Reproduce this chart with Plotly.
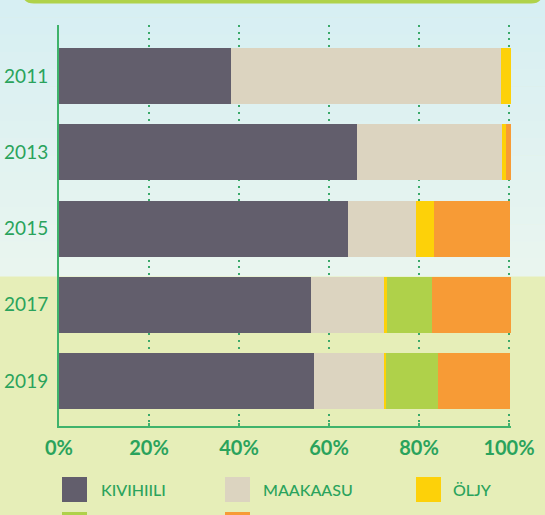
import plotly.graph_objects as go

# ---- data ----
years = ["2011", "2013", "2015", "2017", "2019"]
series_names = ["KIVIHIILI", "MAAKAASU", "ÖLJY", "BIOPOLTTOAINEET", "MUUT"]
kivihiili = [38.2, 66.2, 64.2, 56.0, 56.7]
maakaasu = [60.0, 32.2, 15.1, 16.2, 15.5]
oljy = [2.2, 0.9, 4.0, 0.6, 0.5]
bio = [0.0, 0.0, 0.0, 10.1, 11.5]
muut = [0.0, 1.1, 16.9, 17.5, 16.0]
x_tickvals = [0, 20, 40, 60, 80, 100]
x_ticktext = ["0%", "20%", "40%", "60%", "80%", "100%"]

series_values = [kivihiili, maakaasu, oljy, bio, muut]
colors = ["#625e6c", "#dcd4c0", "#fdd109", "#afd14a", "#f79b36"]

GREEN_TXT = "#2aa35c"
AXIS_GREEN = "#3fb36b"
GRID_GREEN = "#3aa96a"

W, H = 545, 515
ML, MR, MT, MB = 59, 34, 25, 89
PW = W - ML - MR
PH = H - MT - MB


def px2x(px):
    return (px - ML) / PW


def px2y(py):
    return (H - MB - py) / PH


fig = go.Figure()
for name, vals, col in zip(series_names, series_values, colors):
    fig.add_trace(go.Bar(
        y=years, x=vals, orientation="h", name=name,
        marker=dict(color=col, line=dict(width=0)),
        width=0.734, showlegend=False, hoverinfo="x+name",
    ))

shapes = []
# background gradient (top bluish part)
c0 = (0xd7, 0xef, 0xf3)
c1 = (0xe9, 0xf5, 0xef)
nb = 16
top_end = 276
for i in range(nb):
    t = i / (nb - 1)
    c = tuple(round(a + (b - a) * t) for a, b in zip(c0, c1))
    y0 = top_end * i / nb
    y1 = top_end * (i + 1) / nb
    shapes.append(dict(type="rect", xref="paper", yref="paper",
                       x0=px2x(-2), x1=px2x(W + 2), y0=px2y(y1 + 0.5), y1=px2y(y0 - (2 if i == 0 else 0)),
                       fillcolor="rgb(%d,%d,%d)" % c, line=dict(width=0), layer="below"))

# top green rounded box (cut off)
L, R, B, r = 22, 543, 3.5, 12
path = (f"M {px2x(L)},{px2y(-30)} L {px2x(L)},{px2y(B - r)} "
        f"Q {px2x(L)},{px2y(B)} {px2x(L + r)},{px2y(B)} "
        f"L {px2x(R - r)},{px2y(B)} Q {px2x(R)},{px2y(B)} {px2x(R)},{px2y(B - r)} "
        f"L {px2x(R)},{px2y(-30)} Z")
shapes.append(dict(type="path", xref="paper", yref="paper", path=path,
                   fillcolor="#b0d24a", line=dict(width=0), layer="above"))

# legend squares
leg_pos = [(62, 477), (225, 477), (416, 477), (62, 512), (225, 512)]
annotations = []
for i, ((sx, sy), col) in enumerate(zip(leg_pos, colors)):
    shapes.append(dict(type="rect", xref="paper", yref="paper",
                       x0=px2x(sx), x1=px2x(sx + 25), y0=px2y(sy + 25), y1=px2y(sy),
                       fillcolor=col, line=dict(width=0), layer="above"))
text_x = [99, 261, 451]
for i in range(3):
    annotations.append(dict(xref="paper", yref="paper", x=px2x(text_x[i]), y=px2y(489.5),
                            text=series_names[i], showarrow=False, xanchor="left", yanchor="middle",
                            font=dict(family="Lato", size=16, color=GREEN_TXT, weight=500)))

fig.update_layout(
    width=W, height=H,
    autosize=False,
    margin=dict(l=ML, r=MR, t=MT, b=MB, pad=0, autoexpand=False),
    barmode="stack",
    paper_bgcolor="#e6eeb8",
    plot_bgcolor="rgba(0,0,0,0)",
    shapes=shapes,
    annotations=annotations,
    showlegend=False,
    xaxis=dict(
        range=[0, 100.45], tickvals=x_tickvals, ticktext=x_ticktext,
        showgrid=True, gridcolor=GRID_GREEN, gridwidth=2, griddash="2px,4.7px",
        zeroline=False, showline=True, linecolor=AXIS_GREEN, linewidth=2,
        ticks="inside", ticklen=3, tickwidth=1.5, tickcolor=AXIS_GREEN,
        tickfont=dict(family="Lato", size=20, color=GREEN_TXT, weight=700),
        ticklabelstandoff=3, fixedrange=True, automargin=False,
    ),
    yaxis=dict(
        type="category", categoryorder="array", categoryarray=years,
        range=[4.589, -0.670], showgrid=False, zeroline=False,
        showline=True, linecolor=AXIS_GREEN, linewidth=2, ticks="",
        tickfont=dict(family="Lato", size=19, color=GREEN_TXT, weight=400),
        ticklabelstandoff=5, fixedrange=True, automargin=False,
    ),
)

fig.write_html(
    "out.html",
    config={"displayModeBar": False},
    post_script="document.body.style.margin='0';document.body.style.padding='0';"
                "document.documentElement.style.overflow='hidden';",
)
